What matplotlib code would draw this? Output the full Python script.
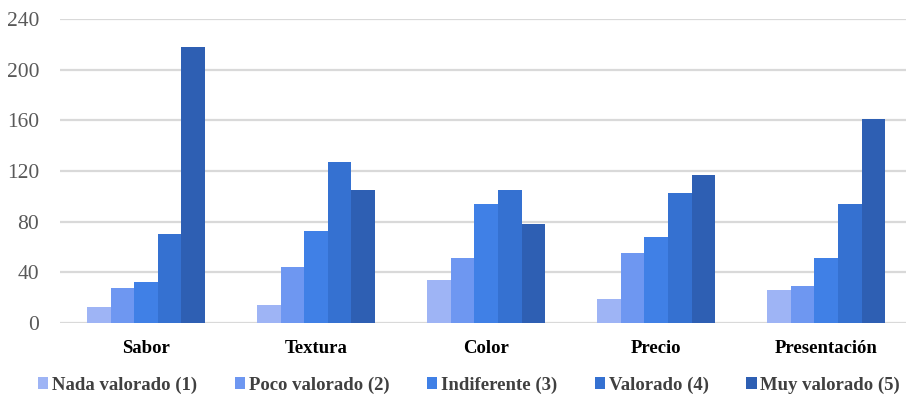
import numpy as np
import matplotlib
matplotlib.use('Agg')
import matplotlib.pyplot as plt

plt.rcParams['font.family'] = ['Liberation Serif', 'DejaVu Serif']

categorias = ['Sabor', 'Textura', 'Color', 'Precio', 'Presentación']
series = ['Nada valorado (1)', 'Poco valorado (2)', 'Indiferente (3)',
          'Valorado (4)', 'Muy valorado (5)']
nada = [13, 14, 34, 19, 26]
poco = [28, 44, 51, 55, 29]
indiferente = [32, 73, 94, 68, 51]
valorado = [70, 127, 105, 103, 94]
muy = [218, 105, 78, 117, 161]
colores = ['#9EB4F5', '#6E97F1', '#4080E6', '#3571D1', '#2E5FB3']

valores = [nada, poco, indiferente, valorado, muy]

fig = plt.figure(figsize=(9.06, 4.01), dpi=100)
ax = fig.add_axes([60/906, 1-323/401, 1-60/906, (323-19)/401])

x = np.arange(len(categorias))
w = 0.139
for i, (vals, c, lab) in enumerate(zip(valores, colores, series)):
    ax.bar(x + (i-2)*w, vals, w, color=c, label=lab, zorder=3)

ax.set_xlim(-0.506, 4.47)
ax.set_ylim(0, 240)
ax.set_yticks(range(0, 241, 40))
ax.yaxis.grid(True, color='#D9D9D9', linewidth=1.6, zorder=0)
ax.set_axisbelow(True)
for s in ax.spines.values():
    s.set_visible(False)
ax.tick_params(axis='y', length=0, pad=15, labelsize=15.5, labelcolor='#595959')
ax.tick_params(axis='x', length=0, pad=12)
ax.set_xticks(x)
ax.set_xticklabels(categorias, fontsize=13.5, fontweight='bold')

# leyenda abajo
ax.legend(loc='center left', bbox_to_anchor=(38/906, 1-385/401), bbox_transform=fig.transFigure,
          ncol=5, frameon=False, handlelength=0.55, handleheight=0.55,
          handletextpad=0.2, columnspacing=2.0, borderaxespad=0, borderpad=0,
          prop={'weight': 'bold', 'size': 13.5})
for t in ax.get_legend().get_texts():
    t.set_color('#404040')

plt.savefig('out.png', dpi=100)
